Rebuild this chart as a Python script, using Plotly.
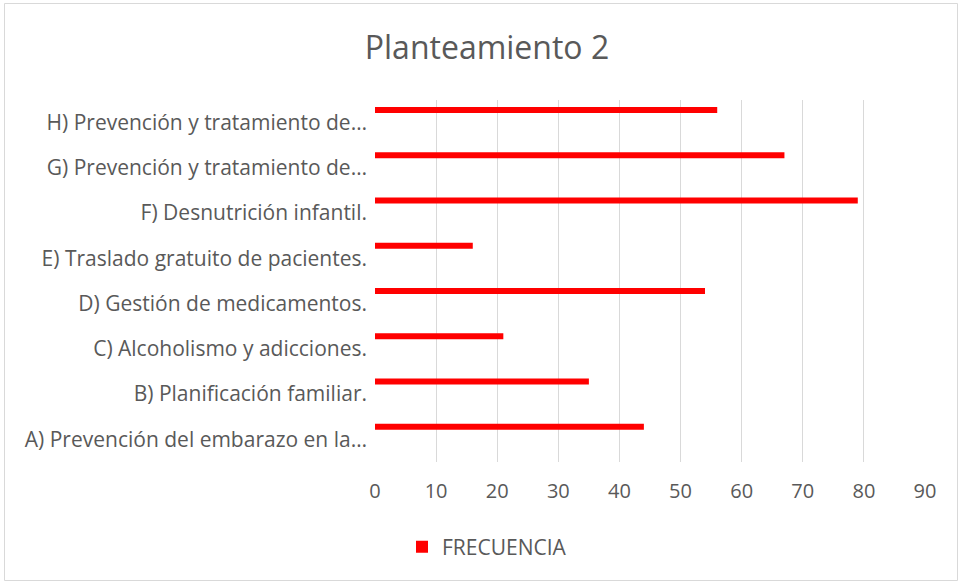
import plotly.graph_objects as go

categories = [
    "A) Prevención del embarazo en la…",
    "B) Planificación familiar.",
    "C) Alcoholismo y adicciones.",
    "D) Gestión de medicamentos.",
    "E) Traslado gratuito de pacientes.",
    "F) Desnutrición infantil.",
    "G) Prevención y tratamiento de…",
    "H) Prevención y tratamiento de…",
]
frecuencia = [44, 35, 21, 54, 16, 79, 67, 56]
x_ticks = [0, 10, 20, 30, 40, 50, 60, 70, 80, 90]

W, H = 960, 583
L, R, T, B = 375, 35, 100, 121
pw, ph = W - L - R, H - T - B

font_family = "Open Sans, Liberation Sans, sans-serif"
gray = "#595959"

fig = go.Figure()
fig.add_trace(go.Bar(
    y=categories, x=frecuencia, orientation="h",
    name="FRECUENCIA",
    marker=dict(color="#ff0000", line=dict(width=0)),
    width=0.13, offset=0.215,
))

def px_to_paper_x(px):
    return (px - L) / pw

def px_to_paper_y(py):
    return (H - B - py) / ph

fig.update_layout(
    width=W, height=H,
    margin=dict(l=L, r=R, t=T, b=B),
    paper_bgcolor="white", plot_bgcolor="white",
    font=dict(family=font_family, color=gray),
    title=dict(text="Planteamiento 2", x=487 / W, xanchor="center",
               y=1 - 48 / H, yanchor="middle",
               font=dict(size=32, color=gray, family=font_family)),
    showlegend=True,
    legend=dict(orientation="h", x=px_to_paper_x(402), xanchor="left",
                y=px_to_paper_y(547), yanchor="middle",
                font=dict(size=21, color=gray), itemwidth=30),
    xaxis=dict(range=[0, 90], tickvals=x_ticks, showgrid=True,
               gridcolor="#d9d9d9", gridwidth=1, zeroline=False,
               showline=False, ticks="", ticklabelstandoff=15,
               tickfont=dict(size=20, color=gray), fixedrange=True),
    yaxis=dict(categoryorder="array", categoryarray=categories,
               range=[-0.5, 7.5], showgrid=False, zeroline=False,
               showline=False, ticks="", ticklabelstandoff=7,
               tickfont=dict(size=21, color=gray), fixedrange=True),
    shapes=[dict(type="rect", xref="paper", yref="paper",
                 x0=px_to_paper_x(4.5), x1=px_to_paper_x(957.5),
                 y0=px_to_paper_y(580.5), y1=px_to_paper_y(3.5),
                 line=dict(color="#d9d9d9", width=1), layer="below")],
)

fig.write_html("out.html", config={"displayModeBar": False},
               post_script="document.body.style.margin='0';document.body.style.overflow='hidden';")
